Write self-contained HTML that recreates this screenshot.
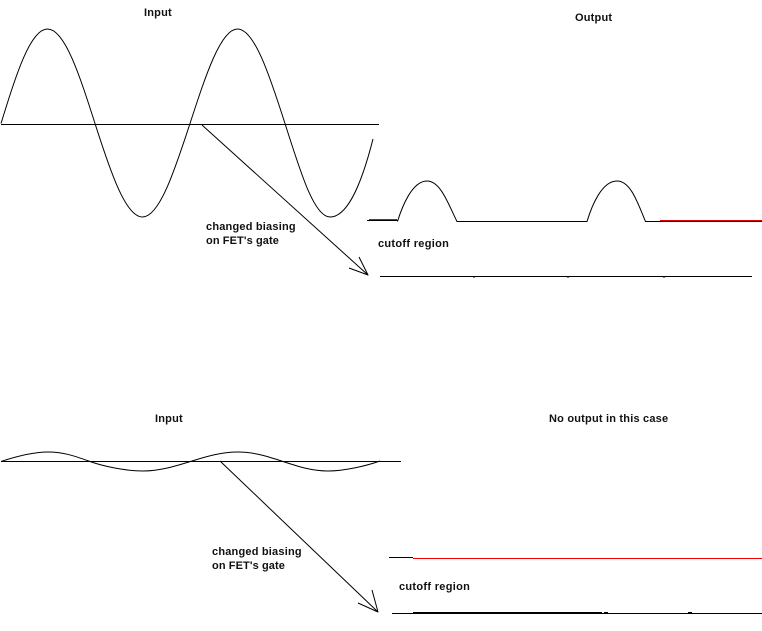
<!DOCTYPE html>
<html><head><meta charset="utf-8"><style>
html,body{margin:0;padding:0;background:#fff}
svg{display:block}
text{font-family:"Liberation Sans",sans-serif;font-size:11px;font-weight:bold;fill:#111;letter-spacing:.2px}
</style></head><body>
<svg width="762" height="631" viewBox="0 0 762 631" xmlns="http://www.w3.org/2000/svg">
<rect width="762" height="631" fill="#fff"/>
<g fill="none" stroke="#000" stroke-width="1" stroke-linejoin="round">
<path d="M1 123.500C16 75 30.300 29 47.500 29S79.500 75 95 123.500S125.700 217 142.500 217S174.500 171 190 123.500S220.700 29 237.500 29S269.500 75 285 123.500S314 217 330 217S360 190 373 139"/>
<path d="M1 124.500H379"/>
<path d="M202 125L368 275M359 257L368 275L349 268"/>
<path d="M367 220.500H397.500"/>
<path d="M397.500 221.500C402 207 412 181 427 181C441 181 449 206 457 221.500H587C592 205 602 181 617 181C631 181 638 204 645.500 221.500H762"/>
<path d="M380 276.500H752M474 276.500V278M568 276.500V278M664 276.500V278"/>
<path d="M1 461.500C16 456.500 32 452 48 452S76 456.500 90 461.500S126 471 143 471S176 466 192 461S222 452 238 452S268 456.500 283 461.500S312 471 328 471S366 466 380 461"/>
<path d="M1 461.500H401"/>
<path d="M220 461L378 612M372 590L378 612L358 603"/>
<path d="M389 557.500H413"/>
<path d="M392 613.500H762"/>
<path d="M413 613H602" stroke-width="2"/>
<path d="M604 612.500H608M688 612.500H692"/>
</g>
<path d="M369 219.500H397M660 220.500H762" stroke="#e80000" stroke-width="1" fill="none"/>
<path d="M413 558.500H762" stroke="#f00000" stroke-width="1" fill="none"/>
<text x="144" y="16">Input</text>
<text x="575" y="21">Output</text>
<text x="206" y="230">changed biasing</text>
<text x="206" y="244" style="letter-spacing:.1px">on FET's gate</text>
<text x="378" y="247" style="letter-spacing:.3px">cutoff region</text>
<text x="155" y="422">Input</text>
<text x="549" y="422">No output in this case</text>
<text x="212" y="555">changed biasing</text>
<text x="212" y="569" style="letter-spacing:.1px">on FET's gate</text>
<text x="399" y="590" style="letter-spacing:.3px">cutoff region</text>
</svg>
</body></html>
